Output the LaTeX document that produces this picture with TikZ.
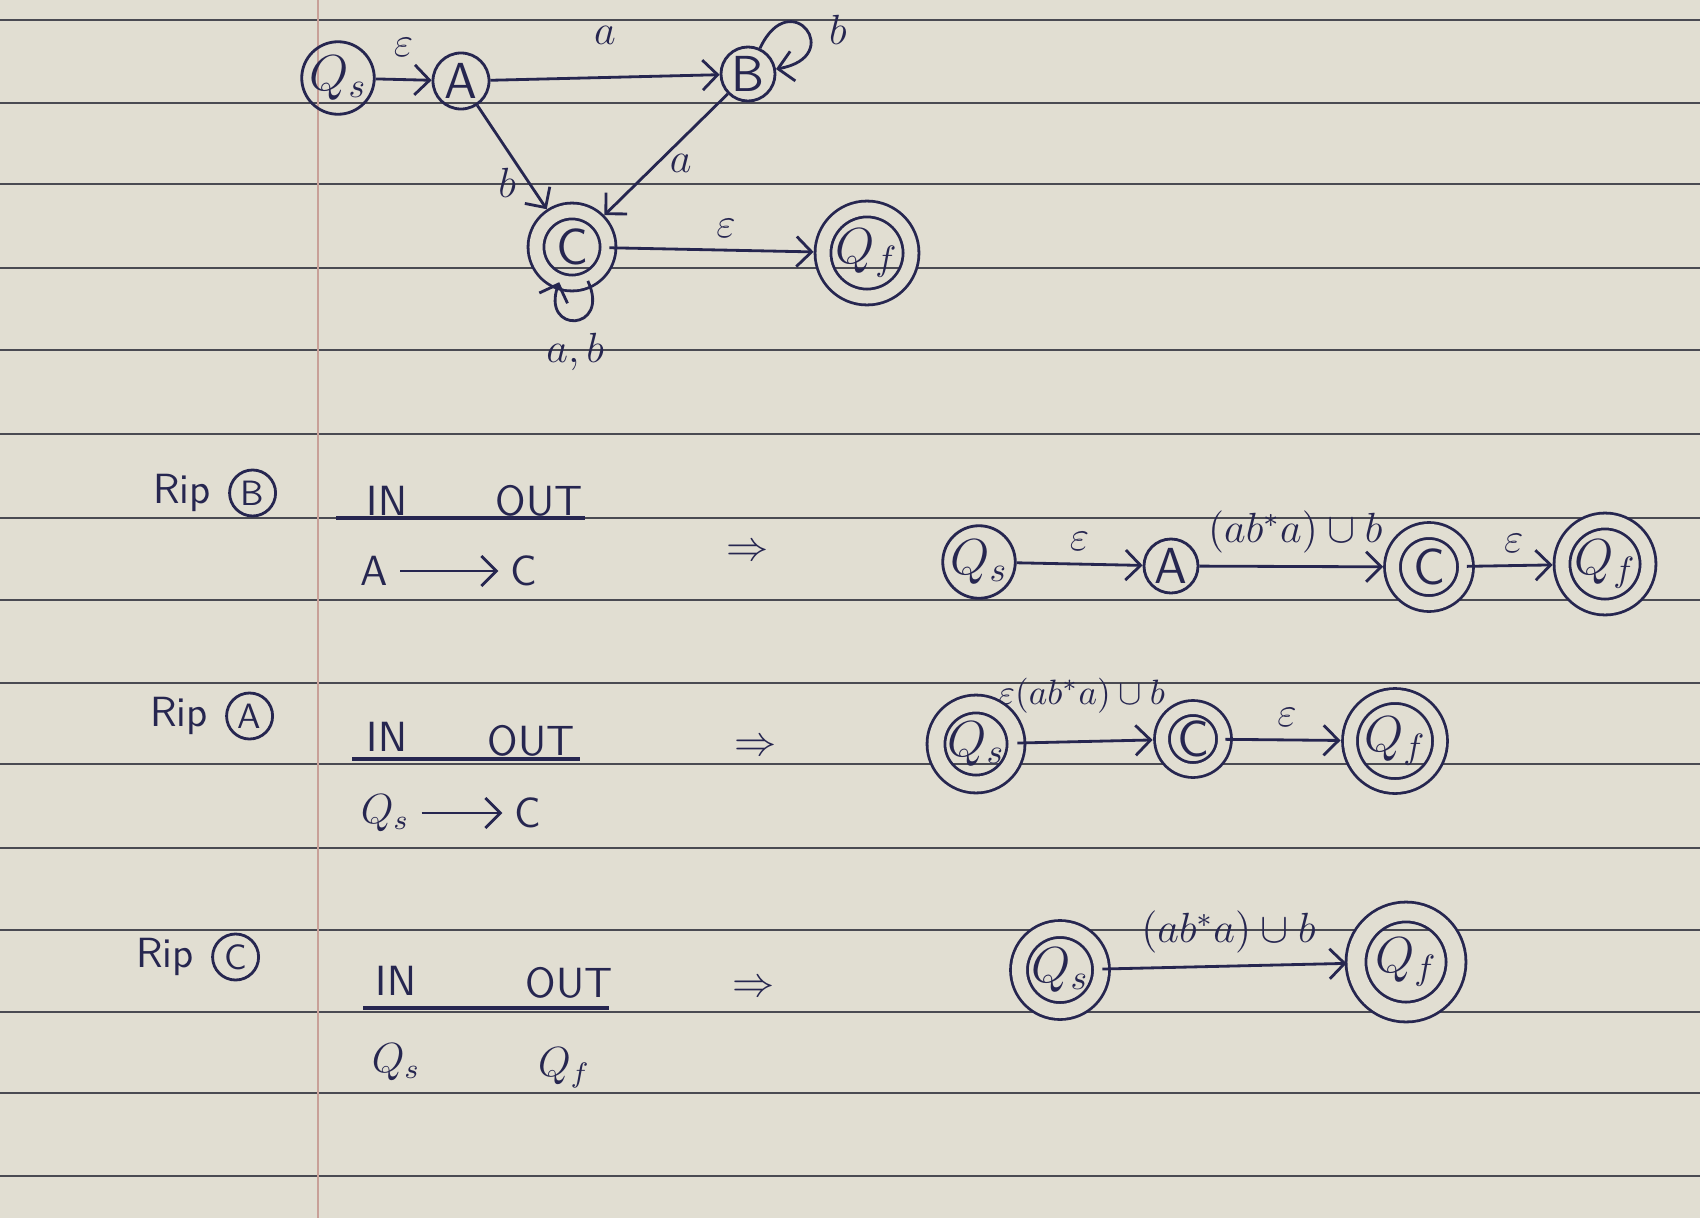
\documentclass[tikz,border=0pt]{standalone}
\usepackage{xcolor}
\definecolor{cInk}{HTML}{262650}
\definecolor{cPaper}{HTML}{E1DED2}
\definecolor{cRule}{HTML}{4A4A52}
\definecolor{cMargin}{HTML}{C8A098}
\usepackage{tikz}
\usetikzlibrary{positioning,arrows.meta}
\tikzset{
  node-state/.style={draw=cInk,thick,circle,inner sep=0pt,text=cInk,
    font=\sffamily\Large},
  node-accept/.style={node-state,double=cPaper,double distance=1.3mm},
  node-text/.style={text=cInk,font=\sffamily\large},
  node-label/.style={text=cInk,font=\large},
  arrow/.style={-{Straight Barb[length=1.5mm]},thick,draw=cInk},
  arrow-acc/.style={arrow,shorten >=0.8mm},
  under/.style={very thick,draw=cInk},
  ruling/.style={draw=cRule,line width=0.7pt},
}

\begin{document}
\begin{tikzpicture}[x=0.01cm,y=-0.01cm]
  \useasboundingbox (0,0) rectangle (1700,1218);
  \fill[cPaper] (0,0) rectangle (1700,1218);
  % paper
  \foreach \y in {20,103,184,268,350,434,518,600,683,764,848,930,1012,1093,1176}
    \draw[ruling] (0,\y) -- (1700,\y);
  \draw[cMargin,line width=0.6pt] (318,0) -- (318,1218);

  % the NFA
  \node[node-state,minimum size=7.2mm] (qs) at (338,78) {$Q_s$};
  \node[node-state,minimum size=5.6mm] (a) at (461,81) {A};
  \node[node-state,minimum size=5.4mm] (b) at (748,74) {B};
  \node[node-accept,minimum size=7.2mm] (c) at (572,247) {C};
  \node[node-accept,minimum size=8.8mm] (qf) at (867,253) {$Q_f$};
  \draw[arrow] (qs) -- node[node-label,above=1mm]{$\varepsilon$} (a);
  \draw[arrow] (a) -- node[node-label,above=2mm]{$a$} (b);
  \draw[arrow] (b) to[out=65,in=10,looseness=7] node[node-label,right=1mm]{$b$} (b);
  \draw[arrow-acc] (a) -- node[node-label,left,pos=0.7]{$b$} (c);
  \draw[arrow-acc] (b) -- node[node-label,right,pos=0.55]{$a$} (c);
  \draw[arrow-acc] (c) -- node[node-label,above,pos=0.55]{$\varepsilon$} (qf);
  \draw[arrow] (c) to[out=-65,in=-110,looseness=5]
    node[node-label,below]{$a,b$} (c);

  % rip B
  \node[node-text] (ripb) at (182,493) {Rip};
  \node[node-state,minimum size=4.6mm,font=\sffamily\normalsize,
    right=0.5mm of ripb] (ripbst) {B};
  \node[node-text] (inb) at (387,501) {IN};
  \node[node-text] (outb) at (539,501) {OUT};
  \draw[under] (336,518) -- (585,518);
  \node[node-text] (fromb) at (374,571) {A};
  \node[node-text] (tob) at (524,571) {C};
  \draw[arrow] (fromb) -- (tob);
  \node[node-label] (impb) at (748,553) {$\Rightarrow$};
  \node[node-state,minimum size=7.2mm] (qs1) at (979,562) {$Q_s$};
  \node[node-state,minimum size=5.4mm] (a1) at (1171,566) {A};
  \node[node-accept,minimum size=7.3mm] (c1) at (1429,567) {C};
  \node[node-accept,minimum size=8.6mm] (qf1) at (1605,564) {$Q_f$};
  \draw[arrow] (qs1) -- node[node-label,above]{$\varepsilon$} (a1);
  \draw[arrow-acc] (a1) -- node[node-label,above]{$(ab^{*}a)\cup b$} (c1);
  \draw[arrow-acc] (c1) -- node[node-label,above]{$\varepsilon$} (qf1);

  % rip A
  \node[node-text] (ripa) at (179,716) {Rip};
  \node[node-state,minimum size=4.6mm,font=\sffamily\normalsize,
    right=0.5mm of ripa] (ripast) {A};
  \node[node-text] (ina) at (387,737) {IN};
  \node[node-text] (outa) at (531,741) {OUT};
  \draw[under] (352,759) -- (580,759);
  \node[node-text] (froma) at (385,813) {$Q_s$};
  \node[node-text] (toa) at (528,813) {C};
  \draw[arrow] (froma) -- (toa);
  \node[node-label] (impa) at (756,748) {$\Rightarrow$};
  \node[node-accept,minimum size=8mm,double distance=1.5mm] (qs2) at (976,744) {$Q_s$};
  \node[node-accept,minimum size=6.2mm,double distance=1.2mm] (c2) at (1193,739) {C};
  \node[node-accept,minimum size=9mm,double distance=1.2mm] (qf2) at (1395,741) {$Q_f$};
  \draw[arrow-acc] (qs2) -- node[node-label,font=\normalsize,above=1.5mm,pos=0.45]
    {$\varepsilon(ab^{*}a)\cup b$} (c2);
  \draw[arrow-acc] (c2) -- node[node-label,above]{$\varepsilon$} (qf2);

  % rip C
  \node[node-text] (ripc) at (165,957) {Rip};
  \node[node-state,minimum size=4.6mm,font=\sffamily\normalsize,
    right=0.5mm of ripc] (ripcst) {C};
  \node[node-text] (inc) at (396,981) {IN};
  \node[node-text] (outc) at (569,983) {OUT};
  \draw[under] (363,1008) -- (609,1008);
  \node[node-text] (fromc) at (396,1062) {$Q_s$};
  \node[node-text] (toc) at (564,1068) {$Q_f$};
  \node[node-label] (impc) at (754,989) {$\Rightarrow$};
  \node[node-accept,minimum size=8.2mm,double distance=1.4mm] (qs3) at (1060,970) {$Q_s$};
  \node[node-accept,minimum size=10mm,double distance=1.7mm] (qf3) at (1406,962) {$Q_f$};
  \draw[arrow-acc] (qs3) -- node[node-label,above]{$(ab^{*}a)\cup b$} (qf3);
\end{tikzpicture}
\end{document}
